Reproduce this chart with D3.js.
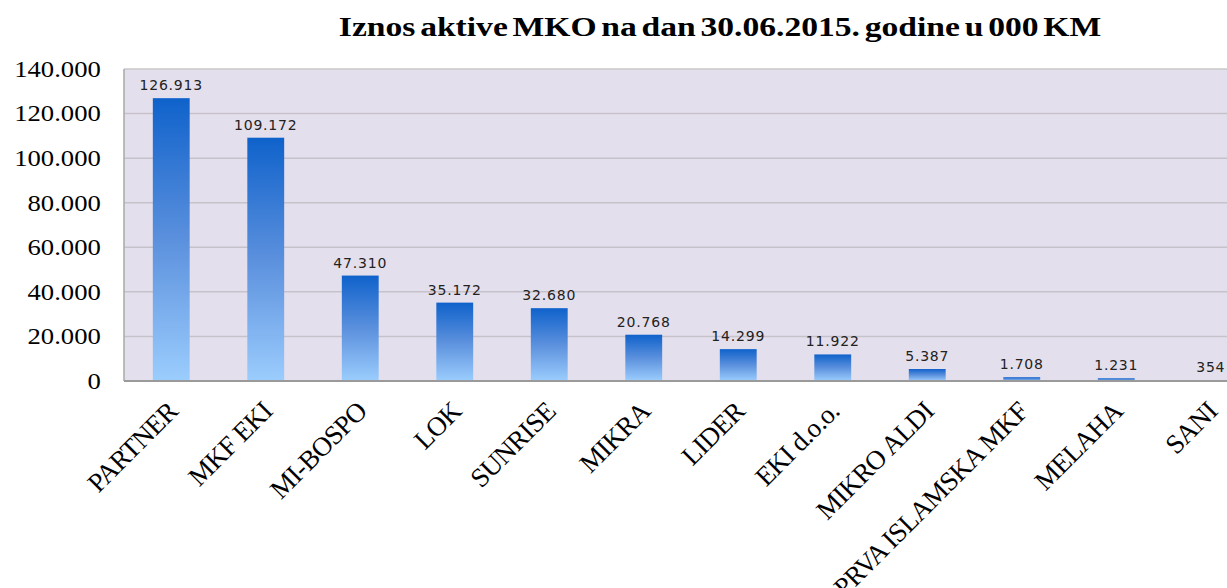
<!DOCTYPE html>
<html lang="en">
  <head>
    <meta charset="UTF-8" />
    <title>Iznos aktive MKO</title>
    <style>
      body {
        margin: 0;
        background: #fff;
      }
      svg {
        display: block;
      }
    </style>
  </head>
  <body>
    <script src="https://cdnjs.cloudflare.com/ajax/libs/d3/7.8.5/d3.min.js"></script>
    <script>

// data
var categories = ["PARTNER", "MKF EKI", "MI-BOSPO", "LOK", "SUNRISE", "MIKRA", "LIDER",
  "EKI d.o.o.", "MIKRO ALDI", "PRVA ISLAMSKA MKF", "MELAHA", "SANI"];
var values = [126913, 109172, 47310, 35172, 32680, 20768, 14299, 11922, 5387, 1708, 1231, 354];
var yTicks = [0, 20000, 40000, 60000, 80000, 100000, 120000, 140000];
var title = "Iznos aktive MKO na dan 30.06.2015. godine u 000 KM";

var width = 1227,
    height = 588,
    // plot runs past the right edge, like in the original
    margin = {top: 69, left: 124, bottom: 207},
    plotRight = 1258,
    sx = 1.16; // original picture is a bit stretched sideways

var locale = d3.formatLocale({decimal: ",", thousands: ".", grouping: [3], currency: ["", ""]});
var fmt = locale.format(",d");

var svg = d3.select("body").append("svg")
  .attr("width", width)
  .attr("height", height);

var grad = svg.append("defs").append("linearGradient")
  .attr("id", "barGrad")
  .attr("x1", 0).attr("y1", 0).attr("x2", 0).attr("y2", 1);
grad.append("stop").attr("offset", "0%").attr("stop-color", "#0f62cb");
grad.append("stop").attr("offset", "50%").attr("stop-color", "#5b90dd");
grad.append("stop").attr("offset", "100%").attr("stop-color", "#9bcdfd");

var x = d3.scaleBand()
  .domain(categories)
  .range([margin.left, plotRight])
  .paddingInner(0.61)
  .paddingOuter(0.305);

var y = d3.scaleLinear()
  .domain([0, 140000])
  .range([height - margin.bottom, margin.top]);

// plot area
svg.append("rect")
  .attr("x", margin.left)
  .attr("y", y(140000))
  .attr("width", plotRight - margin.left)
  .attr("height", y(0) - y(140000))
  .attr("fill", "#e4dfec");

// grid
svg.append("g")
  .selectAll("line")
  .data(yTicks.slice(1))
  .enter()
  .append("line")
  .attr("x1", margin.left)
  .attr("x2", plotRight)
  .attr("y1", function(d){ return y(d); })
  .attr("y2", function(d){ return y(d); })
  .attr("stroke", function(d){ return d === 140000 ? "#c9c9c9" : "#c6c2ca"; })
  .attr("stroke-width", 1.5);

// left border
svg.append("line")
  .attr("x1", margin.left).attr("x2", margin.left)
  .attr("y1", y(140000)).attr("y2", y(0))
  .attr("stroke", "#a8a8a8")
  .attr("stroke-width", 1.5);

// y axis labels
var yAxis = d3.axisLeft(y)
  .tickValues(yTicks)
  .tickSize(0)
  .tickPadding(20)
  .tickFormat(fmt);

var yg = svg.append("g")
  .attr("transform", "translate(" + margin.left + ",0)")
  .call(yAxis);
yg.select(".domain").remove();
yg.selectAll("text")
  .attr("font-family", "'Liberation Serif', 'Times New Roman', serif")
  .attr("font-size", 23)
  .attr("fill", "#000")
  .attr("transform", "scale(" + sx + ",1)");

// bars
svg.append("g")
  .selectAll("rect")
  .data(values)
  .enter()
  .append("rect")
  .attr("x", function(d, i){ return x(categories[i]); })
  .attr("y", function(d){ return y(d); })
  .attr("width", x.bandwidth())
  .attr("height", function(d){ return y(0) - y(d); })
  .attr("fill", "url(#barGrad)");

// value labels
svg.append("g")
  .selectAll("text")
  .data(values)
  .enter()
  .append("text")
  .attr("x", function(d, i){ return x(categories[i]) + x.bandwidth() / 2; })
  .attr("y", function(d){ return y(d) - 8; })
  .attr("text-anchor", "middle")
  .attr("font-family", "'DejaVu Sans', Verdana, sans-serif")
  .attr("font-size", 14)
  .attr("letter-spacing", 0.8)
  .attr("fill", "#222")
  .text(function(d){ return fmt(d); });

// bottom axis line
svg.append("line")
  .attr("x1", margin.left).attr("x2", plotRight)
  .attr("y1", y(0)).attr("y2", y(0))
  .attr("stroke", "#9a9a9a")
  .attr("stroke-width", 2);

// category labels
svg.append("g")
  .selectAll("text")
  .data(categories)
  .enter()
  .append("text")
  .attr("transform", function(d){
    return "translate(" + (x(d) + x.bandwidth() / 2 + 8) + "," + (y(0) + 32) + ") rotate(-45)";
  })
  .attr("text-anchor", "end")
  .attr("font-family", "'Liberation Serif', 'Times New Roman', serif")
  .attr("font-size", 27)
  .attr("letter-spacing", -0.7)
  .attr("fill", "#000")
  .text(function(d){ return d; });

// title
svg.append("text")
  .attr("transform", "translate(720,36) scale(1.2,1)")
  .attr("text-anchor", "middle")
  .attr("font-family", "'Liberation Serif', 'Times New Roman', serif")
  .attr("font-weight", "bold")
  .attr("font-size", 28)
  .attr("word-spacing", -3)
  .attr("fill", "#000")
  .text(title);

</script>
  </body>
</html>
